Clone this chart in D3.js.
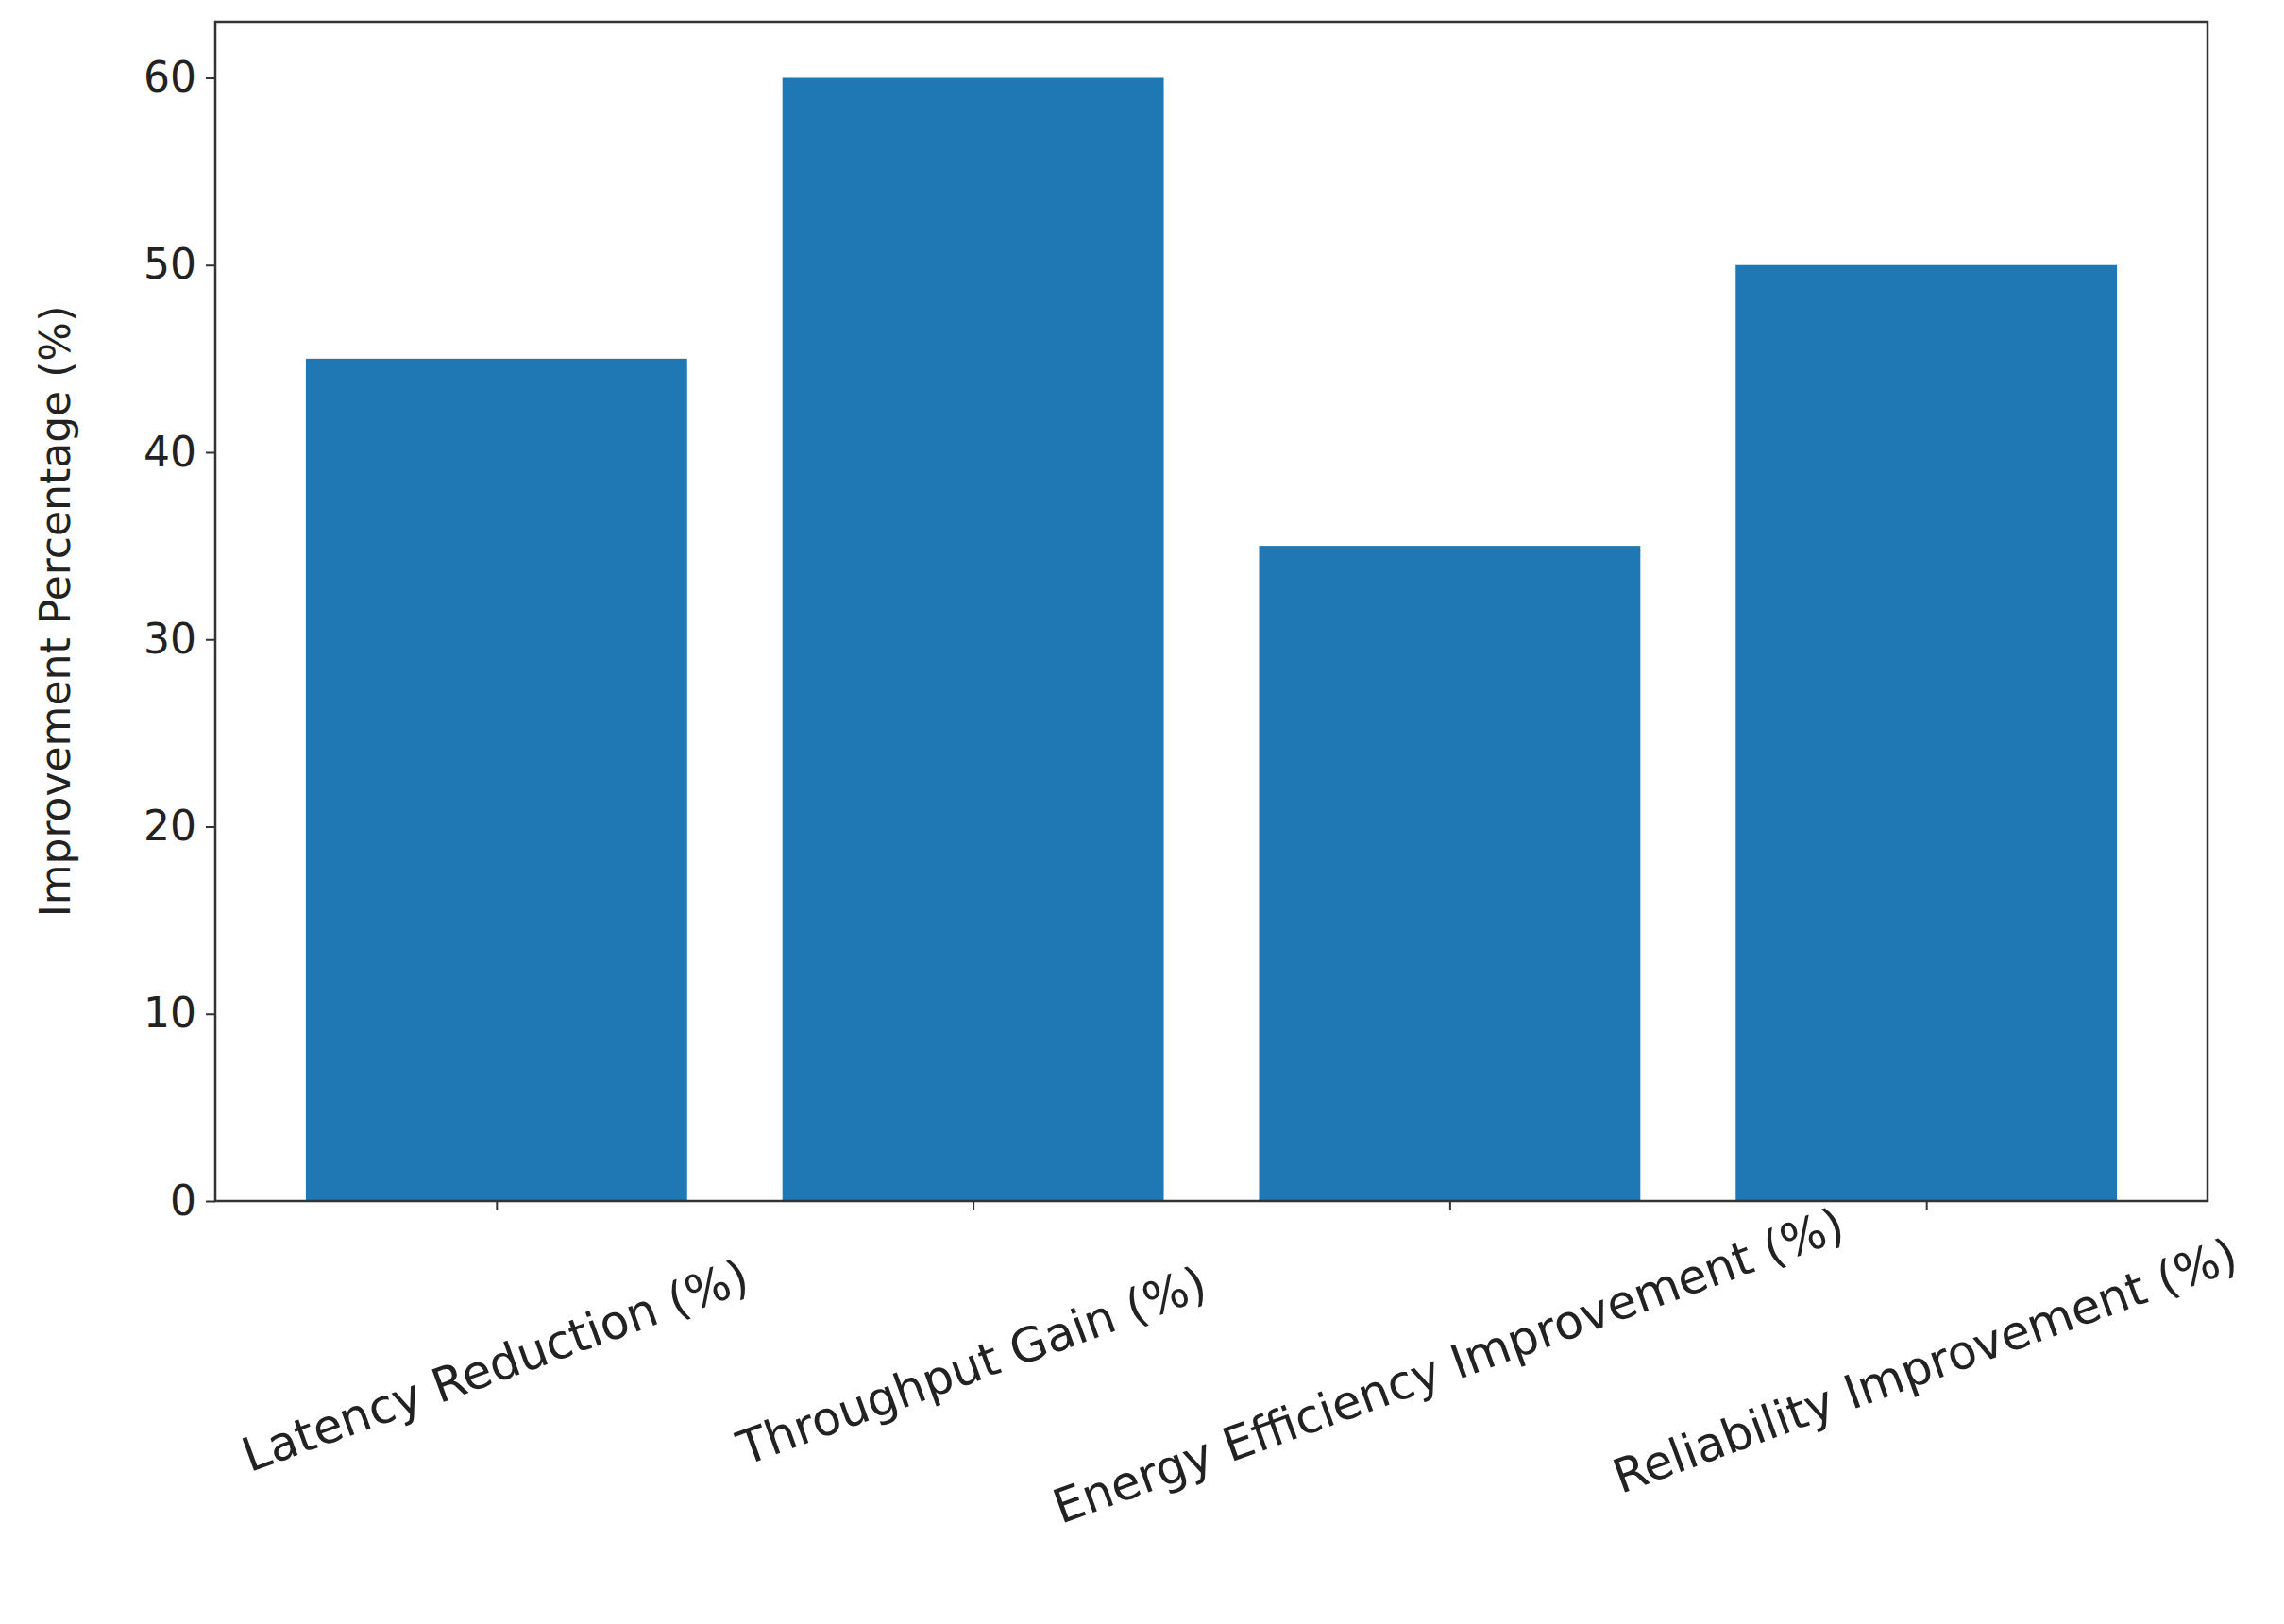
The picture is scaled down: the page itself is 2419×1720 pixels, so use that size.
<!DOCTYPE html>
<html><head><meta charset="utf-8">
<script src="https://cdn.jsdelivr.net/npm/d3@7"></script>
<style>body{margin:0;background:#fff}</style></head>
<body><svg id="c" width="2419" height="1720"></svg>
<script>
var categories = ["Latency Reduction (%)", "Throughput Gain (%)", "Energy Efficiency Improvement (%)", "Reliability Improvement (%)"];
var values = [45, 60, 35, 50];
var yTicks = [0, 10, 20, 30, 40, 50, 60];

var mLeft = 228, mRight = 2338, mTop = 23, mBottom = 1272;
var svg = d3.select("#c");
var font = "DejaVu Sans";

var x = d3.scaleLinear().domain([-0.59, 3.59]).range([mLeft, mRight]);
var y = d3.scaleLinear().domain([0, 63]).range([mBottom, mTop]);
var bw = x(0.8) - x(0);

svg.selectAll("rect.bar").data(values).enter().append("rect")
  .attr("class", "bar")
  .attr("x", function(d, i){ return x(i - 0.4); })
  .attr("y", function(d){ return y(d); })
  .attr("width", bw)
  .attr("height", function(d){ return y(0) - y(d); })
  .attr("fill", "#1f77b4");

// y axis
var ya = svg.append("g").attr("transform", "translate(" + mLeft + ",0)")
  .call(d3.axisLeft(y).tickValues(yTicks).tickSize(10).tickPadding(10));
ya.selectAll("text").attr("font-family", font).attr("font-size", 44).attr("fill", "#222");
ya.select(".domain").remove();
ya.selectAll("line").attr("stroke", "#333").attr("stroke-width", 2);

// x axis ticks
var xa = svg.append("g").attr("transform", "translate(0," + mBottom + ")")
  .call(d3.axisBottom(x).tickValues(d3.range(categories.length)).tickSize(10).tickFormat(""));
xa.select(".domain").remove();
xa.selectAll("line").attr("stroke", "#333").attr("stroke-width", 2);

svg.selectAll("text.xl").data(categories).enter().append("text")
  .attr("class", "xl")
  .attr("transform", function(d, i){ return "translate(" + x(i) + "," + (mBottom + 178) + ") rotate(-20)"; })
  .attr("text-anchor", "middle")
  .attr("dominant-baseline", "middle")
  .attr("font-family", font).attr("font-size", 50).attr("fill", "#222")
  .text(function(d){ return d; });

// frame
svg.append("rect").attr("x", mLeft).attr("y", mTop)
  .attr("width", mRight - mLeft).attr("height", mBottom - mTop)
  .attr("fill", "none").attr("stroke", "#333").attr("stroke-width", 2.5);

svg.append("text")
  .attr("transform", "translate(62," + ((mTop + mBottom) / 2) + ") rotate(-90)")
  .attr("text-anchor", "middle").attr("dominant-baseline", "middle")
  .attr("font-family", font).attr("font-size", 44).attr("fill", "#222")
  .text("Improvement Percentage (%)");
</script></body></html>
